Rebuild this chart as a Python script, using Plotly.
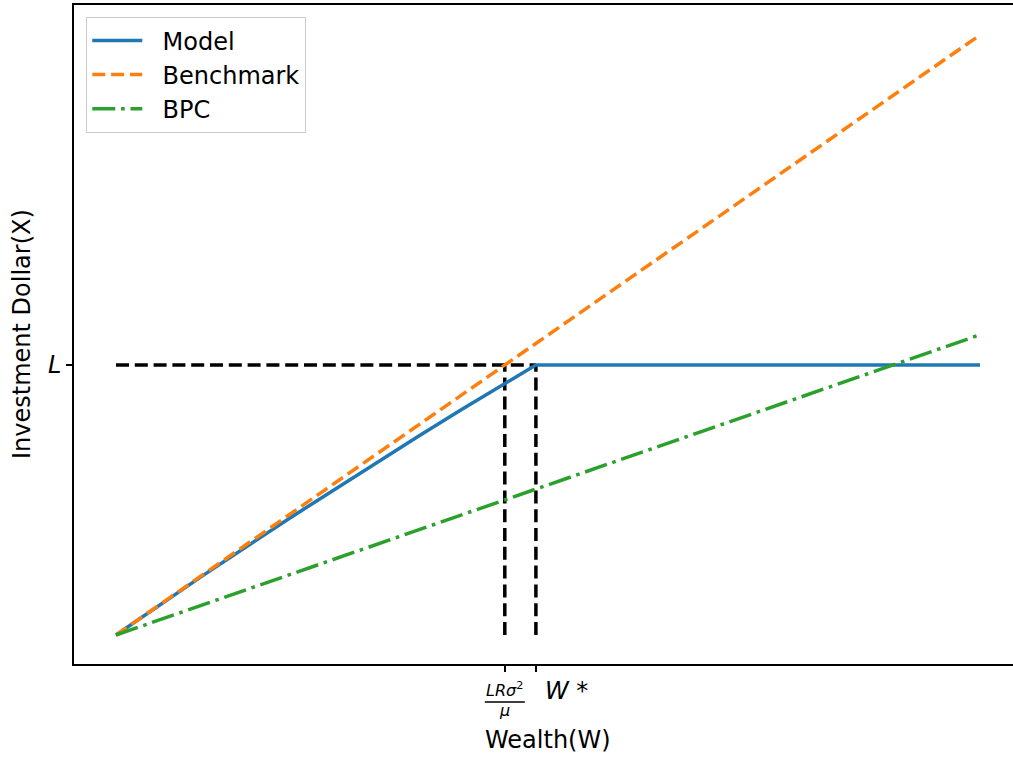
import plotly.graph_objects as go

# ---- data ----
wealth = [0, 1, 2, 3, 3.5, 4, 4.5, 4.86, 10]
model = [0, 1.094, 2.154, 3.181, 3.68, 4.174, 4.658, 5.0, 5.0]
bench_wealth = [0, 10]
benchmark = [0, 11.11]
bpc_wealth = [0, 10]
bpc = [0, 5.56]
L_level = 5.0
w_threshold = 4.5   # L R sigma^2 / mu
w_star = 4.86       # W*
legend_names = ["Model", "Benchmark", "BPC"]

# ---- layout geometry (pixels) ----
W, H = 1013, 757
ml, mr, mt, mb = 74, 0, 5, 93
pw, ph = W - ml - mr, H - mt - mb
FONT = "DejaVu Sans"

def px_x(px):
    return (px - ml) / pw

def px_y(py):
    return (H - mb - py) / ph

blue, orange, green = "#1f77b4", "#ff7f0e", "#2ca02c"
lw = 3.5
dashed = "13px,5.8px"
dashdot = "23px,5.8px,3.6px,5.8px"

fig = go.Figure()

# black reference lines (no legend)
for xs, ys in (([0, w_star], [L_level, L_level]),
               ([w_threshold, w_threshold], [0, L_level]),
               ([w_star, w_star], [0, L_level])):
    fig.add_trace(go.Scatter(x=xs, y=ys, mode="lines",
                             line=dict(color="black", width=lw, dash=dashed),
                             showlegend=False, hoverinfo="skip"))

pad = "\u00a0\u00a0"
fig.add_trace(go.Scatter(x=wealth, y=model, mode="lines", name=pad + legend_names[0],
                         line=dict(color=blue, width=lw)))
fig.add_trace(go.Scatter(x=bench_wealth, y=benchmark, mode="lines", name=pad + legend_names[1],
                         line=dict(color=orange, width=lw, dash=dashed)))
fig.add_trace(go.Scatter(x=bpc_wealth, y=bpc, mode="lines", name=pad + legend_names[2],
                         line=dict(color=green, width=lw, dash=dashdot)))

# axis ranges from pixel mapping: x=0 at px 116, 86.4 px/unit; y=0 at px 635, 54 px/unit
x0 = (ml - 116) / 86.4
x1 = (W - mr - 116) / 86.4
y0 = -((H - mb) - 635) / 54
y1 = (635 - mt) / 54

fig.update_layout(
    width=W, height=H,
    margin=dict(l=ml, r=mr, t=mt, b=mb, pad=0),
    plot_bgcolor="white", paper_bgcolor="white",
    font=dict(family=FONT, color="black", size=24),
    xaxis=dict(range=[x0, x1], showgrid=False, zeroline=False,
               showline=True, linecolor="black", linewidth=1.5, mirror=True,
               ticks="outside", ticklen=6, tickwidth=1.5, tickcolor="black",
               tickvals=[w_threshold, w_star], showticklabels=False),
    yaxis=dict(range=[y0, y1], showgrid=False, zeroline=False,
               showline=True, linecolor="black", linewidth=1.5, mirror=False,
               ticks="outside", ticklen=6, tickwidth=1.5, tickcolor="black",
               tickvals=[L_level], ticktext=["<i>L</i>"],
               tickfont=dict(family=FONT, size=24, color="black")),
    legend=dict(x=px_x(86), y=px_y(17), xanchor="left", yanchor="top",
                bgcolor="rgba(255,255,255,0.8)", bordercolor="#cccccc", borderwidth=1.3,
                font=dict(family=FONT, size=24, color="black"),
                itemwidth=50, tracegroupgap=0),
    showlegend=True,
)

# x tick labels (fraction and W*)
fig.add_annotation(text="<i>LRσ</i><sup>2</sup>", x=w_threshold, xref="x",
                   y=px_y(689), yref="paper", showarrow=False,
                   font=dict(family=FONT, size=16, color="black"),
                   xanchor="center", yanchor="middle")
fig.add_shape(type="line", xref="x", yref="paper",
              x0=w_threshold - 20 / 86.4, x1=w_threshold + 20 / 86.4,
              y0=px_y(702), y1=px_y(702), line=dict(color="black", width=1.4))
fig.add_annotation(text="<i>μ</i>", x=w_threshold, xref="x",
                   y=px_y(710), yref="paper", showarrow=False,
                   font=dict(family=FONT, size=16, color="black"),
                   xanchor="center", yanchor="middle")
fig.add_annotation(text="<i>W</i> *", x=px_x(543), xref="paper",
                   y=px_y(691), yref="paper", showarrow=False,
                   font=dict(family=FONT, size=24, color="black"),
                   xanchor="left", yanchor="middle")

# axis titles
fig.add_annotation(text="Wealth(W)", x=px_x(548), xref="paper",
                   y=px_y(740), yref="paper", showarrow=False,
                   font=dict(family=FONT, size=24, color="black"),
                   xanchor="center", yanchor="middle")
fig.add_annotation(text="Investment Dollar(X)", x=px_x(22), xref="paper",
                   y=px_y(334), yref="paper", showarrow=False, textangle=-90,
                   font=dict(family=FONT, size=24, color="black"),
                   xanchor="center", yanchor="middle")

fig.write_html("out.html",
               config={"displayModeBar": False},
               post_script="document.body.style.margin='0';"
                           "document.body.style.overflow='hidden';")
